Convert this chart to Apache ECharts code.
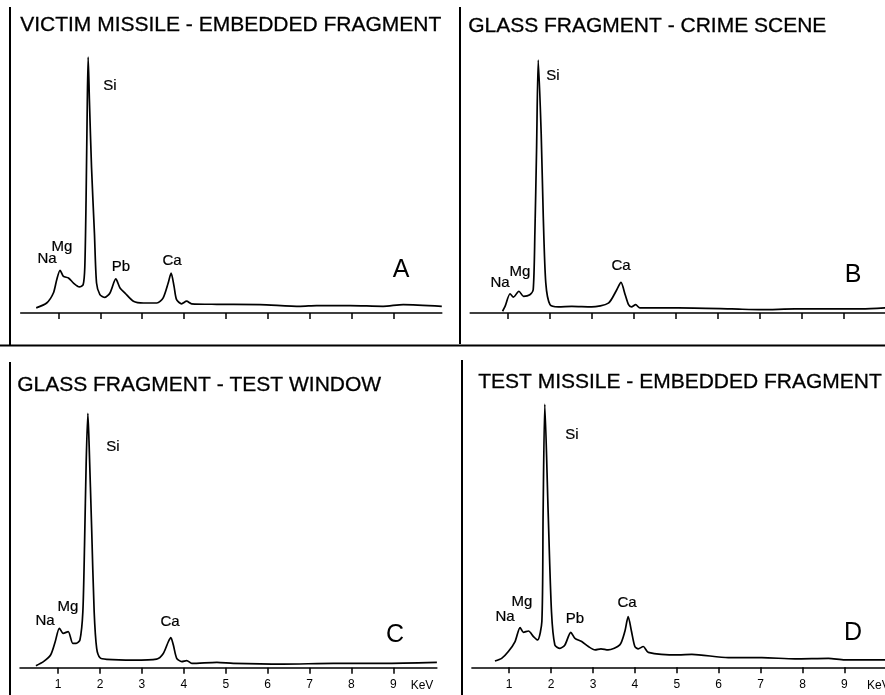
<!DOCTYPE html>
<html>
<head>
<meta charset="utf-8">
<script src="https://cdn.jsdelivr.net/npm/echarts@6/dist/echarts.min.js"></script>
<style>
html,body{margin:0;padding:0;background:#fff;}
#chart{width:885px;height:695px;}
</style>
</head>
<body>
<div id="chart"></div>
<script>
// ---- Data: [energy keV, relative intensity (% of Si peak)] ----
const spectrumA = [
  [0.47,2.0],[0.72,3.9],[0.88,7.8],[0.96,13],[1.04,16.7],[1.12,14.3],[1.24,13.7],[1.36,11.7],
  [1.50,10.2],[1.59,11],[1.63,18],[1.66,44],[1.69,83],[1.71,100],[1.74,83],[1.79,57],[1.86,31],
  [1.91,11.7],[1.99,7.2],[2.11,6.1],[2.23,7.8],[2.37,13.3],[2.47,9.8],[2.59,7.8],[2.79,4.6],
  [3.03,3.9],[3.35,3.9],[3.50,5.9],[3.62,11.7],[3.69,15.6],[3.76,10.4],[3.82,5.2],[3.94,3.6],
  [4.06,4.6],[4.18,3.6],[4.78,3.4],[5.81,3.3],[6.77,2.6],[7.16,2.9],[7.96,2.9],[8.75,2.6],
  [9.23,3.3],[10.15,2.6]
];
const spectrumB = [
  [0.87,0.7],[0.93,2.6],[1.05,7.6],[1.13,6.3],[1.26,8.6],[1.37,6.6],[1.52,7.2],[1.60,9.2],
  [1.64,31.6],[1.68,64.5],[1.72,100],[1.79,71],[1.84,38],[1.90,11.8],[2.00,3.3],[2.20,2.4],
  [2.52,2.6],[2.99,2.4],[3.39,3.9],[3.59,9.2],[3.69,12.1],[3.79,7.2],[3.87,3.3],[3.94,2.4],
  [4.04,3.3],[4.14,2.0],[5.06,2.0],[6.33,1.6],[7.04,1.3],[7.83,1.6],[8.63,1.6],[9.42,1.6],[9.98,2.0]
];
const spectrumC = [
  [0.47,0.8],[0.65,2.4],[0.82,5.0],[0.93,10.2],[1.03,15.5],[1.12,13.5],[1.24,14.2],[1.35,9.6],
  [1.43,9.6],[1.52,10.9],[1.59,22],[1.63,48],[1.67,81],[1.71,100],[1.74,87.5],[1.80,54.8],
  [1.86,22],[1.92,7.6],[2.00,3.9],[2.16,3.3],[2.79,3.0],[3.35,3.4],[3.51,5.6],[3.63,10.2],
  [3.69,11.8],[3.75,8.9],[3.83,3.7],[3.95,2.4],[4.07,2.8],[4.19,1.7],[4.79,2.1],[5.18,1.7],
  [6.37,1.4],[7.57,1.7],[8.76,1.7],[10.04,2.1]
];
const spectrumD = [
  [0.66,2.4],[0.82,3.4],[0.98,6.0],[1.14,9.8],[1.26,15.1],[1.34,13.3],[1.46,13.8],[1.58,11.7],
  [1.68,10.4],[1.78,17.4],[1.81,59],[1.85,100],[1.93,59],[2.01,21],[2.09,8.5],[2.21,7.2],
  [2.33,8.5],[2.47,13.3],[2.57,11],[2.73,9.8],[2.89,7.9],[3.05,6.6],[3.19,7.0],[3.36,6.6],
  [3.64,8.5],[3.76,13.6],[3.84,19.3],[3.92,13.6],[4.00,7.9],[4.08,7.0],[4.20,7.9],[4.32,5.7],
  [5.04,4.7],[5.36,4.9],[6.23,3.7],[7.03,3.7],[7.82,3.2],[8.62,3.4],[9.01,2.8],[9.97,2.8]
];
const titles = [
  'VICTIM MISSILE - EMBEDDED FRAGMENT',
  'GLASS FRAGMENT - CRIME SCENE',
  'GLASS FRAGMENT - TEST WINDOW',
  'TEST MISSILE - EMBEDDED FRAGMENT'
];
const panelLetters = ['A','B','C','D'];
const tickValues = [1,2,3,4,5,6,7,8,9];
const unitLabel = 'KeV';
const peakLabels = [
  ['Na','Mg','Si','Pb','Ca'],
  ['Na','Mg','Si','Ca'],
  ['Na','Mg','Si','Ca'],
  ['Na','Mg','Si','Pb','Ca']
];

// ---- Layout ----
const FONT = '"Liberation Sans", Arial, Helvetica, sans-serif';
const grids = [
  {left:20.7, width:421.1, top:57, height:256, min:0.1, max:10.15, labels:false},
  {left:470.2, width:414.8, top:60, height:253, min:0.1, max:9.976, labels:false},
  {left:20.0, width:416.9, top:413.3, height:254.4, min:0.09, max:10.04, labels:true},
  {left:471.9, width:413.1, top:404.3, height:263, min:0.11, max:9.97, labels:true}
];
const series = [spectrumA, spectrumB, spectrumC, spectrumD];

const titlePos = [[20,27],[468,28],[17,387],[478,384]];
const letterPos = [[401,270],[853,275],[395,635],[853,633]];
const peakPos = [
  [[47,259],[62,247],[110,86],[121,267],[172,261]],
  [[500,283],[520,272],[553,76],[621,266]],
  [[45,621],[68,607],[113,447],[170,622]],
  [[505,617],[522,602],[572,435],[575,619],[627,603]]
];

const graphic = [];
titles.forEach((t,i)=>{
  graphic.push({type:'text', left:titlePos[i][0], top:titlePos[i][1]-12,
    style:{text:t, font:'21px '+FONT, fill:'#000', stroke:'#000', lineWidth:0.3}});
});
panelLetters.forEach((t,i)=>{
  graphic.push({type:'text', x:letterPos[i][0], y:letterPos[i][1],
    style:{text:t, font:'25px '+FONT, fill:'#000', align:'center', verticalAlign:'middle'}});
});
peakLabels.forEach((arr,i)=>{
  arr.forEach((t,j)=>{
    graphic.push({type:'text', x:peakPos[i][j][0], y:peakPos[i][j][1],
      style:{text:t, font:'15px '+FONT, fill:'#000', stroke:'#000', lineWidth:0.2, align:'center', verticalAlign:'middle'}});
  });
});
// unit labels
graphic.push({type:'text', x:422, y:686, style:{text:unitLabel, font:'12px '+FONT, fill:'#000', align:'center', verticalAlign:'middle'}});
graphic.push({type:'text', x:867, y:686, style:{text:unitLabel, font:'12px '+FONT, fill:'#000', align:'left', verticalAlign:'middle'}});
// frame lines
const frame = [
  [10,7,10,345],[460,7,460,344],[0,345.5,885,345.5],[10,362,10,695],[462,360,462,695]
];
frame.forEach(f=>{
  graphic.push({type:'line', shape:{x1:f[0],y1:f[1],x2:f[2],y2:f[3]}, style:{stroke:'#000', lineWidth:2}});
});

const option = {
  backgroundColor:'#fff',
  animation:false,
  grid: grids.map(g=>({left:g.left, width:g.width, top:g.top, height:g.height, containLabel:false})),
  xAxis: grids.map((g,i)=>({
    type:'value', gridIndex:i, min:g.min, max:g.max,
    axisLine:{show:true, onZero:false, lineStyle:{color:'#000', width:1.5}},
    axisTick:{show:true, inside:false, length:6, customValues:tickValues, lineStyle:{color:'#000', width:1.5}},
    axisLabel:{show:g.labels, customValues:tickValues, margin:11, color:'#000', fontSize:12, fontFamily:FONT},
    splitLine:{show:false}
  })),
  yAxis: grids.map((g,i)=>({
    type:'value', gridIndex:i, min:0, max:100, show:false, splitLine:{show:false}
  })),
  series: series.map((d,i)=>({
    type:'line', xAxisIndex:i, yAxisIndex:i, data:d, showSymbol:false, smooth:0.25,
    clip:false, lineStyle:{color:'#000', width:1.7}
  })),
  graphic: graphic
};
const chart = echarts.init(document.getElementById('chart'), null, {renderer:'canvas'});
chart.setOption(option);
</script>
</body>
</html>
